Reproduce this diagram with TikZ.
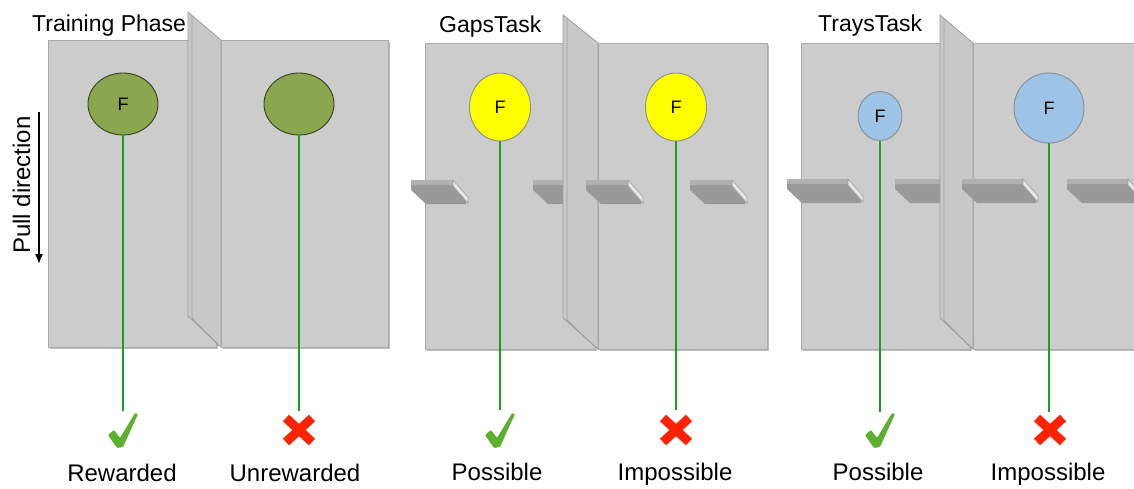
\documentclass[tikz,border=0pt]{standalone}
\usepackage{fontspec}
\setmainfont{Liberation Sans}
\usetikzlibrary{shapes.geometric,arrows.meta}
\definecolor{boardfill}{HTML}{CCCCCC}
\definecolor{boardedge}{HTML}{A9A9A9}
\definecolor{boardshadow}{HTML}{BDBDBD}
\definecolor{divfill}{HTML}{C8C8C8}
\definecolor{divedge}{HTML}{9E9E9E}
\definecolor{ledgetop}{HTML}{B0B0B0}
\definecolor{ledgefront}{HTML}{999999}
\definecolor{ledgeend}{HTML}{E6E6E6}
\definecolor{foodgreen}{HTML}{8AA64E}
\definecolor{foodgreenedge}{HTML}{34421A}
\definecolor{foodyellow}{HTML}{FFFF00}
\definecolor{foodblue}{HTML}{9DC3E6}
\definecolor{foodedge}{HTML}{8E8E8E}
\definecolor{stringgreen}{HTML}{1E9E1E}
\definecolor{checkgreen}{HTML}{5DB02E}
\definecolor{crossred}{HTML}{FF2200}
\tikzset{
  boardbox/.style={fill=boardfill, draw=boardedge, line width=1pt},
  dividerface/.style={fill=divfill, draw=divedge, line width=0.8pt},
  food/.style={ellipse, inner sep=0pt, line width=0.9pt, font=\fontsize{18}{18}\selectfont},
  stringline/.style={draw=stringgreen, line width=2pt},
  crossline/.style={draw=crossred, line width=9pt},
  lbl/.style={font=\fontsize{24}{28}\selectfont, anchor=base, inner sep=0pt},
  titletext/.style={font=\fontsize{23}{27}\selectfont, anchor=base west, inner sep=0pt},
}
\newcommand{\boardrect}[4]{%
  \fill[boardshadow] (#1+1.5,#2+1.5) rectangle (#3+1.5,#4+1.5);
  \filldraw[boardbox] (#1,#2) rectangle (#3,#4);}
\newcommand{\divwall}[4]{%
  \filldraw[dividerface] (#1,#3) -- (#2,#3+28) -- (#2,#4) -- (#1,#4-31) -- cycle;
  \draw[divedge, line width=0.7pt] (#1+4,#3+4) -- (#1+4,#4-29) -- (#2-2,#4-1);}
\newcommand{\ledgeshape}[3]{%
  \begin{scope}[shift={(#1,#2)}]
    \fill[ledgefront] (0,4) -- (#3,4) -- (#3+13,21) -- (#3+13,24) -- (15,24) -- (0,10) -- cycle;
    \fill[ledgetop] (0,0) -- (#3,0) -- (#3+3,5) -- (0,5) -- cycle;
    \filldraw[fill=ledgeend, draw=divedge, line width=0.6pt] (#3,0) -- (#3+15,17) -- (#3+15,23) -- (#3,6) -- cycle;
  \end{scope}}
\newcommand{\checkmk}[2]{%
  \fill[checkgreen, shift={(#1,#2)}, rounded corners=1pt] (-15,5) -- (-9,0) -- (-3,8) -- (12,-17) -- (15,-16) -- (0,17) -- (-6,18) -- cycle;}
\newcommand{\crossmk}[2]{%
  \draw[crossline] (#1-13,#2-12) -- (#1+13,#2+12);
  \draw[crossline] (#1-13,#2+12) -- (#1+13,#2-12);}
\begin{document}
\begin{tikzpicture}[x=1pt,y=-1pt]
\useasboundingbox (0,0) rectangle (1134,488);
\fill[white] (0,0) rectangle (1134,488);

% ---------- Panel 1: Training Phase ----------
\boardrect{48}{40}{216}{347}
\boardrect{221}{40}{388}{347}
\divwall{188}{221}{12}{347}
\node[titletext] (t1) at (32,31) {Training Phase};

\node[food, fill=foodgreen, draw=foodgreenedge, minimum width=70pt, minimum height=62pt] (f1) at (123,104) {F};
\node[food, fill=foodgreen, draw=foodgreenedge, minimum width=70pt, minimum height=62pt] (f2) at (299,104) {};
\coordinate (e1) at (123,411);
\coordinate (e2) at (299,411);
\draw[stringline] (f1.south) -- (e1);
\draw[stringline] (f2.south) -- (e2);

% pull direction
\node[font=\fontsize{24}{28}\selectfont, rotate=90, anchor=base, inner sep=0pt] (pull) at (30,185) {Pull direction};
\coordinate (pa) at (39,112);
\coordinate (pb) at (39,264);
\draw[line width=1.6pt, -{Latex[length=10pt,width=8pt]}] (pa) -- (pb);

% ---------- Panel 2: GapsTask ----------
\boardrect{425}{43}{595}{349}
\boardrect{598}{43}{767}{349}
\ledgeshape{411}{180}{42}
\ledgeshape{533}{180}{42}
\divwall{563}{598}{15}{349}
\ledgeshape{586}{180}{42}
\ledgeshape{690}{180}{42}
\node[titletext] (t2) at (439,32) {GapsTask};

\node[food, fill=foodyellow, draw=foodedge, minimum width=61pt, minimum height=68pt] (f3) at (500,107) {F};
\node[food, fill=foodyellow, draw=foodedge, minimum width=61pt, minimum height=68pt] (f4) at (676,107) {F};
\coordinate (e3) at (500,410);
\coordinate (e4) at (676,410);
\draw[stringline] (f3.south) -- (e3);
\draw[stringline] (f4.south) -- (e4);

% ---------- Panel 3: TraysTask ----------
\boardrect{801}{43}{970}{349}
\boardrect{973}{43}{1140}{349}
\ledgeshape{787}{179}{61}
\ledgeshape{895}{179}{61}
\divwall{940}{973}{15}{349}
\ledgeshape{962}{179}{61}
\ledgeshape{1067}{179}{61}
\node[titletext] (t3) at (818,31) {TraysTask};

\node[food, fill=foodblue, draw=foodedge, minimum width=44pt, minimum height=49pt] (f5) at (880,116) {F};
\node[food, fill=foodblue, draw=foodedge, minimum width=70pt, minimum height=70pt] (f6) at (1049,108) {F};
\coordinate (e5) at (880,412);
\coordinate (e6) at (1049,412);
\draw[stringline] (f5.south) -- (e5);
\draw[stringline] (f6.south) -- (e6);

% ---------- outcomes ----------
\checkmk{123}{430}
\crossmk{299}{430}
\checkmk{500}{430}
\crossmk{676}{430}
\checkmk{880}{430}
\crossmk{1050}{430}

\node[lbl] (o1) at (122,481) {Rewarded};
\node[lbl] (o2) at (295,481) {Unrewarded};
\node[lbl] (o3) at (497,480) {Possible};
\node[lbl] (o4) at (675,480) {Impossible};
\node[lbl] (o5) at (878,480) {Possible};
\node[lbl] (o6) at (1048,480) {Impossible};
\end{tikzpicture}
\end{document}
